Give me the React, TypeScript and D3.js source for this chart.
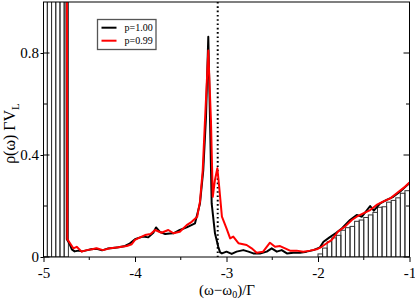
import React, { useEffect, useRef } from 'react';
import * as d3 from 'd3';

// spectral density, two couplings; points are [omega, rho]
const seriesNames = ['p=1.00', 'p=0.99'];
const seriesColors = ['#000000', '#ff0000'];

const blackCurve: [number, number][] = [
    [-4.758, 3.0], [-4.745, 0.07], [-4.72, 0.055], [-4.69, 0.03], [-4.66, 0.022], [-4.62, 0.025],
    [-4.58, 0.022], [-4.53, 0.026], [-4.48, 0.03], [-4.42, 0.032], [-4.36, 0.026], [-4.3, 0.033],
    [-4.24, 0.035], [-4.18, 0.038], [-4.12, 0.042], [-4.06, 0.052], [-4.0, 0.07], [-3.96, 0.075],
    [-3.91, 0.08], [-3.855, 0.077], [-3.8, 0.095], [-3.77, 0.116], [-3.73, 0.099], [-3.67, 0.09],
    [-3.62, 0.092], [-3.58, 0.093], [-3.51, 0.106], [-3.435, 0.116], [-3.344, 0.132], [-3.29, 0.21],
    [-3.254, 0.34], [-3.224, 0.55], [-3.199, 0.864], [-3.18, 0.537], [-3.162, 0.21], [-3.126, 0.093],
    [-3.09, 0.04], [-3.07, 0.018], [-3.05, 0.014], [-3.0, 0.021], [-2.943, 0.012], [-2.89, 0.021],
    [-2.816, 0.027], [-2.76, 0.021], [-2.707, 0.014], [-2.634, 0.014], [-2.56, 0.021], [-2.506, 0.034],
    [-2.45, 0.021], [-2.397, 0.027], [-2.34, 0.014], [-2.27, 0.017], [-2.197, 0.017], [-2.124, 0.021],
    [-2.05, 0.027], [-1.978, 0.038], [-1.94, 0.06], [-1.87, 0.078], [-1.8, 0.095], [-1.74, 0.112],
    [-1.65, 0.145], [-1.577, 0.165], [-1.52, 0.158], [-1.43, 0.2], [-1.39, 0.182], [-1.32, 0.21],
    [-1.25, 0.224], [-1.177, 0.236], [-1.104, 0.256], [-1.03, 0.28], [-1.0, 0.29],
];

const redCurve: [number, number][] = [
    [-4.752, 3.0], [-4.74, 0.07], [-4.71, 0.054], [-4.674, 0.034], [-4.637, 0.04], [-4.583, 0.021],
    [-4.528, 0.027], [-4.47, 0.03], [-4.419, 0.034], [-4.35, 0.027], [-4.273, 0.034], [-4.2, 0.037],
    [-4.09, 0.043], [-4.036, 0.05], [-4.0, 0.067], [-3.945, 0.077], [-3.89, 0.086], [-3.83, 0.09],
    [-3.78, 0.106], [-3.71, 0.095], [-3.636, 0.106], [-3.58, 0.093], [-3.51, 0.099], [-3.435, 0.125],
    [-3.38, 0.138], [-3.32, 0.158], [-3.29, 0.217], [-3.26, 0.34], [-3.235, 0.537], [-3.199, 0.81],
    [-3.17, 0.537], [-3.15, 0.236], [-3.126, 0.302], [-3.1, 0.348], [-3.08, 0.276], [-3.05, 0.158],
    [-3.0, 0.112], [-2.96, 0.073], [-2.926, 0.08], [-2.87, 0.054], [-2.78, 0.047], [-2.725, 0.034],
    [-2.67, 0.017], [-2.6, 0.021], [-2.525, 0.056], [-2.47, 0.04], [-2.415, 0.043], [-2.36, 0.034],
    [-2.306, 0.025], [-2.233, 0.025], [-2.16, 0.021], [-2.087, 0.025], [-2.014, 0.03], [-1.96, 0.04],
    [-1.905, 0.054], [-1.85, 0.067], [-1.78, 0.1], [-1.705, 0.119], [-1.63, 0.145], [-1.577, 0.158],
    [-1.505, 0.171], [-1.43, 0.184], [-1.36, 0.204], [-1.29, 0.217], [-1.21, 0.23], [-1.14, 0.25],
    [-1.068, 0.27], [-1.0, 0.292],
];

// histogram bins: left edges, right edges, heights
const leftBinStarts = [-5.0, -4.958, -4.912, -4.866, -4.82, -4.774];
const leftBinEnds = [-4.958, -4.912, -4.866, -4.82, -4.774, -4.728];
const leftBinHeights = [3, 3, 3, 3, 3, 3];

const rightBinStarts = d3.range(20).map((i) => -2 + i * 0.05);
const rightBinHeights = [
    0.012, 0.035, 0.06, 0.075, 0.085, 0.105, 0.115, 0.12, 0.14, 0.145,
    0.155, 0.165, 0.175, 0.195, 0.197, 0.215, 0.222, 0.232, 0.25, 0.26,
];

const xMajor = [-5, -4, -3, -2, -1];
const xMinor = [-4.5, -3.5, -2.5, -1.5];
const yMajor = [0, 0.4, 0.8];
const yMinor = [0.2, 0.6];
const markerX = -3.096;

function drawChart(svgRoot: SVGSVGElement) {
    const width = 415;
    const height = 300;
    const left = 43.5, right = 409.5, top = 2, bottom = 257;
    const serif = '"Liberation Serif", "Times New Roman", serif';

    const svg = d3.select(svgRoot);
    svg.selectChildren().remove();
    svg.attr('width', width).attr('height', height).attr('viewBox', `0 0 ${width} ${height}`);

    const x = d3.scaleLinear().domain([-5, -1]).range([left, right]);
    const y = d3.scaleLinear().domain([0, 1]).range([bottom, top]);

    svg.append('defs').append('clipPath').attr('id', 'plotclip')
        .append('rect').attr('x', left).attr('y', top).attr('width', right - left).attr('height', bottom - top);

    const plot = svg.append('g').attr('clip-path', 'url(#plotclip)');

    // histograms
    const bins = [
        ...leftBinStarts.map((s, i) => ({ x0: s, x1: leftBinEnds[i], h: leftBinHeights[i] })),
        ...rightBinStarts.map((s, i) => ({ x0: s, x1: s + 0.05, h: rightBinHeights[i] })),
    ];
    plot.selectAll('rect.bin')
        .data(bins)
        .enter().append('rect')
        .attr('class', 'bin')
        .attr('x', (d) => x(d.x0))
        .attr('width', (d) => x(d.x1) - x(d.x0))
        .attr('y', (d) => y(d.h))
        .attr('height', (d) => y(0) - y(d.h))
        .attr('fill', 'none')
        .attr('stroke', '#333')
        .attr('stroke-width', 1);

    // dotted marker
    plot.append('line')
        .attr('x1', x(markerX)).attr('x2', x(markerX))
        .attr('y1', top).attr('y2', bottom)
        .attr('stroke', '#000')
        .attr('stroke-width', 2)
        .attr('stroke-dasharray', '1.6,2.7');

    const lineGen = d3.line<[number, number]>()
        .x((d) => x(d[0]))
        .y((d) => y(d[1]));

    [blackCurve, redCurve].forEach((curve, i) => {
        plot.append('path')
            .datum(curve)
            .attr('fill', 'none')
            .attr('stroke', seriesColors[i])
            .attr('stroke-width', 2)
            .attr('stroke-linejoin', 'round')
            .attr('d', lineGen);
    });

    // frame
    svg.append('rect')
        .attr('x', left).attr('y', top)
        .attr('width', right - left).attr('height', bottom - top)
        .attr('fill', 'none').attr('stroke', '#000').attr('stroke-width', 1);

    // bottom axis
    const xAxis = svg.append('g')
        .attr('transform', `translate(0,${bottom})`)
        .call(d3.axisBottom(x).tickValues(xMajor).tickSize(5).tickPadding(5).tickFormat((d) => String(d)));
    xAxis.select('.domain').remove();
    xAxis.selectAll('text').attr('font-family', serif).attr('font-size', 15).attr('fill', '#000');
    svg.append('g').selectAll('line')
        .data(xMinor).enter().append('line')
        .attr('x1', (d) => x(d)).attr('x2', (d) => x(d))
        .attr('y1', bottom).attr('y2', bottom + 3)
        .attr('stroke', '#000');

    // left axis
    const yAxis = svg.append('g')
        .attr('transform', `translate(${left},0)`)
        .call(d3.axisLeft(y).tickValues(yMajor).tickSize(3).tickPadding(1.5)
            .tickFormat((d) => (+d === 0 ? '0' : (+d).toFixed(1))));
    yAxis.select('.domain').remove();
    yAxis.selectAll('text').attr('font-family', serif).attr('font-size', 15).attr('fill', '#000');
    const inner = svg.append('g');
    inner.selectAll('line.ymaj')
        .data(yMajor).enter().append('line')
        .attr('x1', left).attr('x2', left + 6)
        .attr('y1', (d) => y(d)).attr('y2', (d) => y(d))
        .attr('stroke', '#000');
    inner.selectAll('line.ymin')
        .data(yMinor).enter().append('line')
        .attr('x1', left).attr('x2', left + 3.5)
        .attr('y1', (d) => y(d)).attr('y2', (d) => y(d))
        .attr('stroke', '#000');
    // mirrored right ticks
    inner.selectAll('line.rmaj')
        .data(yMajor).enter().append('line')
        .attr('x1', right - 6).attr('x2', right)
        .attr('y1', (d) => y(d)).attr('y2', (d) => y(d))
        .attr('stroke', '#000');
    inner.selectAll('line.rmin')
        .data(yMinor).enter().append('line')
        .attr('x1', right - 3.5).attr('x2', right)
        .attr('y1', (d) => y(d)).attr('y2', (d) => y(d))
        .attr('stroke', '#000');

    // axis titles
    const xt = svg.append('text')
        .attr('x', (left + right) / 2 + 0.5).attr('y', 294.5)
        .attr('text-anchor', 'middle')
        .attr('font-family', serif).attr('font-size', 15);
    xt.append('tspan').text('(ω−ω');
    xt.append('tspan').attr('font-size', 10).attr('dy', 3.5).text('0');
    xt.append('tspan').attr('dy', -3.5).text(')/Γ');

    const yt = svg.append('text')
        .attr('transform', `translate(15,${(top + bottom) / 2 + 4}) rotate(-90)`)
        .attr('text-anchor', 'middle')
        .attr('font-family', serif).attr('font-size', 16);
    yt.append('tspan').text('ρ(ω) ΓV');
    yt.append('tspan').attr('font-size', 11).attr('dy', 4).text('L');

    // legend
    const lg = svg.append('g');
    lg.append('rect')
        .attr('x', 97.5).attr('y', 19.5).attr('width', 58.5).attr('height', 30)
        .attr('fill', '#fff').attr('stroke', '#555').attr('stroke-width', 1.3);
    seriesNames.forEach((name, i) => {
        const ly = 27.7 + i * 13;
        lg.append('line')
            .attr('x1', 101.5).attr('x2', 116.5)
            .attr('y1', ly).attr('y2', ly)
            .attr('stroke', seriesColors[i]).attr('stroke-width', 2);
        lg.append('text')
            .attr('x', 124.5).attr('y', ly + 3.5)
            .attr('font-family', serif).attr('font-size', 10)
            .text(name);
    });
}

export default function App() {
    const svgRef = useRef<SVGSVGElement>(null);

    useEffect(() => {
        svgRef.current && drawChart(svgRef.current);
    }, []);

    return (
        <div style={{ position: 'absolute', left: 0, top: 0, width: 415, height: 300, background: '#fff' }}>
            <svg ref={svgRef} style={{ display: 'block' }}></svg>
        </div>
    );
}
